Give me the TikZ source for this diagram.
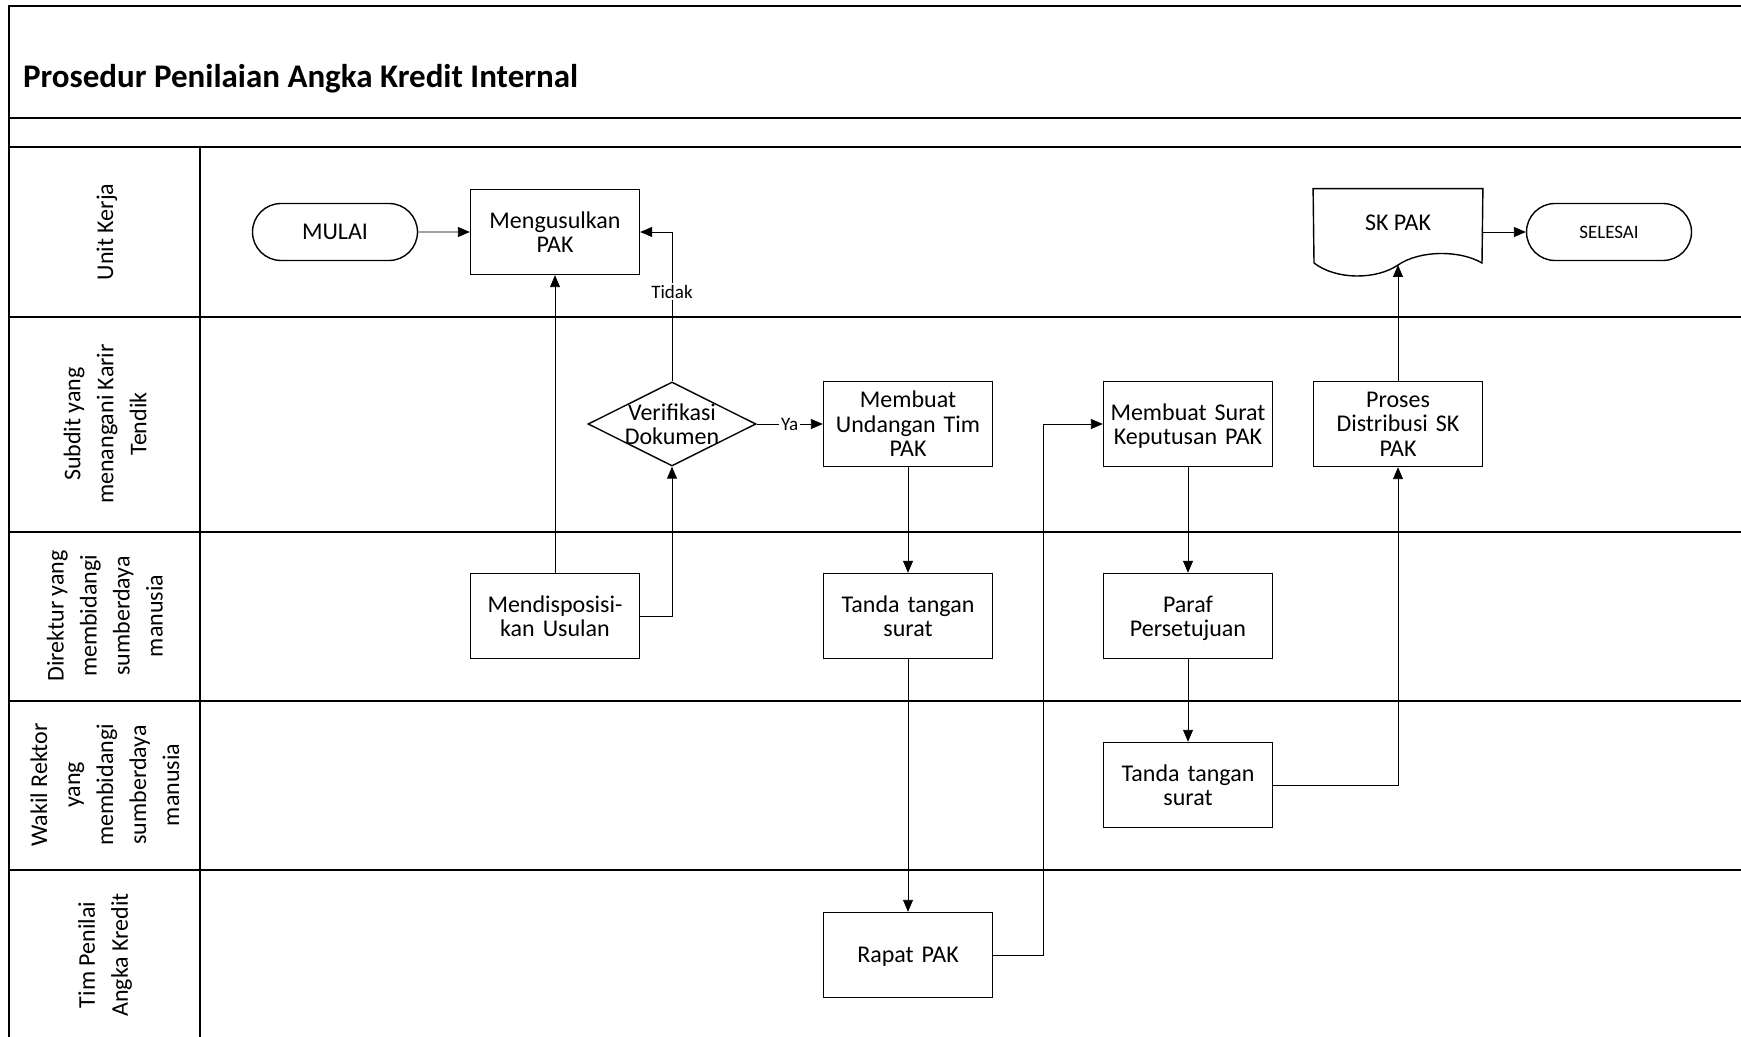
\documentclass[tikz,border=0pt]{standalone}
\usepackage{fontspec}
\setmainfont{Carlito}
\usepackage{tikz}
\usetikzlibrary{shapes,arrows.meta,positioning,calc}
% last line without descender depth, so text sits centred like the others
\newcommand{\flatline}[1]{\raisebox{0pt}[\height][0pt]{#1}}

\begin{document}
\begin{tikzpicture}[x=0.5pt, y=-0.5pt, >={Triangle[length=6pt,width=5pt]},
    every node/.style={font=\fontsize{12}{12.2}\selectfont},
    lane/.style={line width=1pt},
    lanelabel/.style={rotate=90, align=center, font=\fontsize{12}{16.5}\selectfont},
    proc/.style={draw, line width=0.7pt, minimum width=84.5pt, minimum height=42.5pt, text width=80pt, align=center, inner sep=1pt},
    term/.style={draw, line width=0.7pt, rounded rectangle, minimum width=84.5pt, minimum height=28.5pt, inner sep=1pt},
    conn/.style={->, line width=0.45pt},
    cond/.style={font=\fontsize{9.5}{11}\selectfont, fill=white, inner sep=1pt}]
    \useasboundingbox (0,0) rectangle (1741,1037);

    % swimlane frame
    \draw[lane] (9,1037) -- (9,6) -- (1741,6);
    \foreach \ly in {118,147,317,532,701,870}
        \draw[lane] (9,\ly) -- (1741,\ly);
    \draw[lane] (200,147) -- (200,1037);

    \node[anchor=base west, font=\fontsize{16.5}{20}\selectfont\bfseries] (title) at (16,88) {Prosedur Penilaian Angka Kredit Internal};

    \node[lanelabel] (unitkerja) at (107,232) {Unit Kerja};
    \node[lanelabel] (subdit) at (105,424) {Subdit yang\\menangani Karir\\Tendik};
    \node[lanelabel] (direktur) at (105,616) {Direktur yang\\membidangi\\sumberdaya\\manusia};
    \node[lanelabel] (wakil) at (105,785) {Wakil Rektor\\yang\\membidangi\\sumberdaya\\manusia};
    \node[lanelabel] (timpak) at (105,955) {Tim Penilai\\Angka Kredit};

    % steps
    \node[term] (mulai) at (335,232) {MULAI};
    \node[proc] (usul) at (555,232) {Mengusulkan\\PAK};
    \node[proc] (disposisi) at (555,616) {Mendisposisi-\\kan Usulan};
    \node[draw, diamond, line width=0.7pt, minimum width=84pt, minimum height=42pt, inner sep=0pt] (verif) at (672,424) {};
    \node[align=center] (veriftext) at (verif.center) {Verifikasi\\Dokumen};
    \node[proc] (undangan) at (908,424) {Membuat\\Undangan Tim\\PAK};
    \node[proc] (ttd1) at (908,616) {Tanda tangan\\surat};
    \node[proc] (rapat) at (908,955) {\flatline{Rapat PAK}};
    \node[proc] (surat) at (1188,424) {Membuat Surat\\\flatline{Keputusan PAK}};
    \node[proc] (paraf) at (1188,616) {Paraf\\\flatline{Persetujuan}};
    \node[proc] (ttd2) at (1188,785) {Tanda tangan\\surat};
    \node[proc] (distribusi) at (1398,424) {Proses\\Distribusi SK\\PAK};
    \node[minimum width=84.5pt, minimum height=43pt, inner sep=0pt] (skpak) at (1398,232) {};
    \node (sktext) at (1398,223) {SK PAK};
    \node[term, font=\fontsize{9.5}{11}\selectfont] (selesai) at (1609,232) {SELESAI};

    % document outline
    \draw[line width=0.7pt] (skpak.north west) -- (skpak.north east) -- (1482,263)
        .. controls (1460,250) and (1420,250) .. (1398,265)
        .. controls (1376,280) and (1336,280) .. (1314,263) -- cycle;
    \coordinate (skwave) at (1398,265);

    % flow
    \draw[conn] (mulai) -- (usul);
    \draw[conn] (disposisi) -- (usul);
    \draw[conn] (disposisi.east) -| (verif.south);
    \draw[conn] (verif.north) |- node[cond, pos=0.3] {Tidak} (usul.east);
    \draw[conn] (verif.east) -- node[cond] {Ya} (undangan.west);
    \draw[conn] (undangan) -- (ttd1);
    \draw[conn] (ttd1) -- (rapat);
    \draw[conn] (rapat.east) -- ++(50,0) |- (surat.west);
    \draw[conn] (surat) -- (paraf);
    \draw[conn] (paraf) -- (ttd2);
    \draw[conn] (ttd2.east) -| (distribusi.south);
    \draw[conn] (distribusi.north) -- (skwave);
    \draw[conn] (skpak.east) -- (selesai.west);
\end{tikzpicture}
\end{document}
